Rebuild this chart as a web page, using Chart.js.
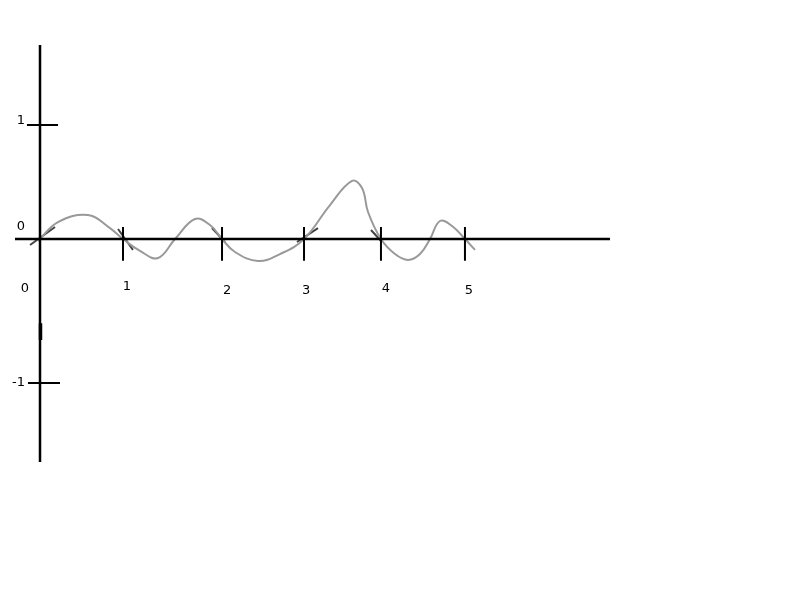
<!DOCTYPE html>
<html><head><meta charset="utf-8">
<script src="https://cdn.jsdelivr.net/npm/chart.js@4/dist/chart.umd.min.js"></script>
<style>html,body{margin:0;padding:0;background:#fff}</style>
</head><body>
<canvas id="c" width="800" height="600"></canvas>
<script>
// x-axis tick positions (data units) and labels
const xTickValues = [0, 1.0, 2.193, 3.181, 4.108, 5.12];
const xTickLabels = ["0", "1", "2", "3", "4", "5"];
// y-axis tick positions and labels
const yTickValues = [1, 0, -1.263];
const yTickLabels = ["1", "0", "-1"];
// sketched curve
const curveX = [-0.024,0.217,0.578,0.843,1.0,1.205,1.422,1.627,1.867,2.048,2.193,2.349,2.627,2.892,3.181,3.494,3.759,3.880,3.952,4.108,4.277,4.434,4.578,4.699,4.819,4.964,5.12,5.241];
const curveY = [-0.018,0.149,0.211,0.096,0,-0.105,-0.167,0,0.175,0.123,0,-0.114,-0.193,-0.132,0,0.298,0.509,0.447,0.237,0,-0.132,-0.184,-0.132,0,0.158,0.114,0,-0.096];
// tangent strokes at the crossings [x1,y1,x2,y2]
const tangents = [[-0.12,-0.053,0.181,0.105],[0.94,0.088,1.12,-0.096],[2.072,0.096,2.229,-0.026],[3.096,-0.026,3.349,0.096],[3.988,0.079,4.12,-0.026]];

const curvePts = curveX.map((x,i)=>({x, y: curveY[i]}));
const tanPts = [];
tangents.forEach(t=>{ tanPts.push({x:t[0],y:t[1]},{x:t[2],y:t[3]},{x:t[2],y:null}); });

const axisPts = [{x:-0.301,y:0},{x:6.867,y:0},{x:6.867,y:null},{x:0,y:1.702},{x:0,y:-1.956},{x:0,y:null}];
const tickPts = [];
xTickValues.forEach((v,i)=>{ const top = i===0?0:0.105; tickPts.push({x:v,y:top},{x:v,y:-0.19},{x:v,y:null}); });
tickPts.push({x:-0.157,y:1},{x:0.217,y:1},{x:0.217,y:null});
tickPts.push({x:-0.145,y:-1.263},{x:0.241,y:-1.263},{x:0.241,y:null});
const nubPts = [{x:0.006,y:-0.74},{x:0.006,y:-0.885}];

const labelPlugin = {
  id:'labels',
  afterDatasetsDraw(chart){
    const {ctx, scales:{x,y}} = chart;
    ctx.save();
    ctx.fillStyle = '#000';
    ctx.font = '13px "DejaVu Sans"';
    ctx.textAlign = 'center';
    ctx.textBaseline = 'middle';
    const xOff = [-15,4,5,2,5,4];
    const yOff = [50,48,52,52,50,52];
    xTickValues.forEach((v,i)=>{
      ctx.fillText(xTickLabels[i], x.getPixelForValue(v)+xOff[i], y.getPixelForValue(0)+yOff[i]);
    });
    ctx.textAlign = 'right';
    const yLabOff = [-4, -12, 0];
    yTickValues.forEach((v,i)=>{
      ctx.fillText(yTickLabels[i], x.getPixelForValue(0)-15, y.getPixelForValue(v)+yLabOff[i]);
    });
    ctx.restore();
  }
};

new Chart(document.getElementById('c'), {
  type:'line',
  data:{datasets:[
    {data:axisPts, borderColor:'#000', borderWidth:2.5, pointRadius:0, tension:0, spanGaps:false},
    {data:tickPts, borderColor:'#000', borderWidth:2, pointRadius:0, tension:0, spanGaps:false},
    {data:nubPts, borderColor:'#000', borderWidth:3.5, pointRadius:0, tension:0},
    {data:curvePts, borderColor:'#999', borderWidth:2, pointRadius:0, tension:0.4},
    {data:tanPts, borderColor:'#444', borderWidth:2, pointRadius:0, tension:0, spanGaps:false}
  ]},
  options:{
    responsive:false, animation:false, events:[],
    layout:{padding:0},
    plugins:{legend:{display:false}, tooltip:{enabled:false}},
    scales:{
      x:{type:'linear', display:false, min:-40/83, max:760/83},
      y:{type:'linear', display:false, min:-361/114, max:239/114}
    }
  },
  plugins:[labelPlugin]
});
</script>
</body></html>
